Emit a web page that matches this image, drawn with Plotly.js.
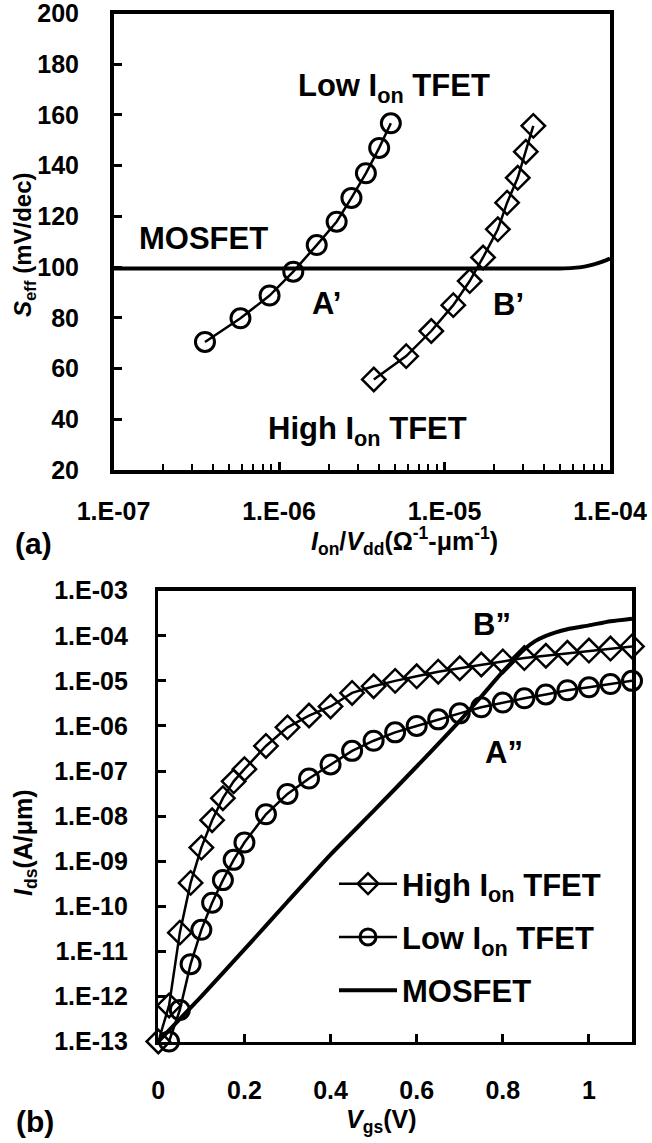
<!DOCTYPE html>
<html>
<head>
<meta charset="utf-8">
<script src="https://cdn.plot.ly/plotly-3.0.1.min.js"></script>
<style>html,body{margin:0;padding:0;background:#fff;}#chart{width:652px;height:1143px;}</style>
</head>
<body>
<div id="chart"></div>
<script>
// ---------- (a) Seff vs Ion/Vdd ----------
const lowIonX  = [3.57e-7, 5.85e-7, 8.77e-7, 1.22e-6, 1.69e-6, 2.23e-6, 2.74e-6, 3.35e-6, 4.03e-6, 4.74e-6];
const lowIonS  = [70.5, 79.8, 88.8, 98.2, 108.7, 117.9, 127.3, 137.0, 147.0, 156.7];
const highIonX = [3.74e-6, 5.87e-6, 8.32e-6, 1.13e-5, 1.42e-5, 1.71e-5, 2.10e-5, 2.39e-5, 2.77e-5, 3.10e-5, 3.44e-5];
const highIonS = [55.7, 64.9, 74.8, 85.0, 94.5, 103.8, 114.9, 125.4, 135.2, 145.5, 155.7];
const mosX     = [1e-7, 1e-6, 1e-5, 3e-5, 5e-5, 6e-5, 7e-5, 8e-5, 9e-5, 1e-4];
const mosS     = [99.5, 99.5, 99.5, 99.5, 99.5, 99.7, 100.2, 101.1, 102.2, 103.4];
const topXTickVals = [1e-7, 1e-6, 1e-5, 1e-4];
const topXTickText = ['1.E-07', '1.E-06', '1.E-05', '1.E-04'];
const topYTickVals = [20, 40, 60, 80, 100, 120, 140, 160, 180, 200];
const topYTickText = ['20', '40', '60', '80', '100', '120', '140', '160', '180', '200'];

// ---------- (b) Ids vs Vgs ----------
const vgsHigh = [0, 0.025, 0.05, 0.075, 0.1, 0.125, 0.15, 0.175, 0.2, 0.25, 0.3, 0.35, 0.4, 0.45, 0.5, 0.55, 0.6, 0.65, 0.7, 0.75, 0.8, 0.85, 0.9, 0.95, 1.0, 1.05, 1.1];
const idsHigh = [1.0e-13, 6.3e-13, 2.6e-11, 3.3e-10, 2.0e-9, 8.1e-9, 2.5e-8, 5.9e-8, 1.1e-7, 3.6e-7, 9.3e-7, 1.7e-6, 2.7e-6, 5.4e-6, 7.6e-6, 1.0e-5, 1.26e-5, 1.6e-5, 1.9e-5, 2.3e-5, 2.7e-5, 3.2e-5, 3.6e-5, 4.2e-5, 4.7e-5, 5.2e-5, 5.8e-5];
const vgsLow  = [0.025, 0.05, 0.075, 0.1, 0.125, 0.15, 0.175, 0.2, 0.25, 0.3, 0.35, 0.4, 0.45, 0.5, 0.55, 0.6, 0.65, 0.7, 0.75, 0.8, 0.85, 0.9, 0.95, 1.0, 1.05, 1.1];
const idsLow  = [1.0e-13, 5.0e-13, 5.2e-12, 3.0e-11, 1.2e-10, 3.8e-10, 1.07e-9, 2.6e-9, 1.1e-8, 3.1e-8, 6.8e-8, 1.4e-7, 2.8e-7, 4.7e-7, 7.2e-7, 1.0e-6, 1.4e-6, 1.9e-6, 2.6e-6, 3.3e-6, 4.1e-6, 5.0e-6, 6.2e-6, 7.2e-6, 8.5e-6, 1.0e-5];
const vgsMos  = [0, 0.1, 0.2, 0.3, 0.4, 0.5, 0.6, 0.7, 0.75, 0.8, 0.85, 0.875, 0.9, 0.95, 1.0, 1.05, 1.1];
const idsMos  = [1e-13, 1e-12, 1.1e-11, 1.26e-10, 1.4e-9, 1.3e-8, 1.26e-7, 1.3e-6, 4.5e-6, 1.6e-5, 5.0e-5, 7.6e-5, 1.0e-4, 1.4e-4, 1.7e-4, 2.1e-4, 2.4e-4];
const botYTickVals = [1e-13, 1e-12, 1e-11, 1e-10, 1e-9, 1e-8, 1e-7, 1e-6, 1e-5, 1e-4, 1e-3];
const botYTickText = ['1.E-13', '1.E-12', '1.E-11', '1.E-10', '1.E-09', '1.E-08', '1.E-07', '1.E-06', '1.E-05', '1.E-04', '1.E-03'];
const botXTickVals = [0, 0.2, 0.4, 0.6, 0.8, 1.0];
const botXTickText = ['0', '0.2', '0.4', '0.6', '0.8', '1'];

const legendNames = ['High I<sub>on</sub> TFET', 'Low I<sub>on</sub> TFET', 'MOSFET'];

// ---------- layout helpers ----------
const W = 652, H = 1143;
const px = x => x / W;
const py = y => 1 - y / H;
const F = 'Liberation Sans, Arial, Helvetica, sans-serif';

const circleMarker  = {symbol: 'circle-open',  size: 19, color: 'black', line: {width: 3, color: 'black'}};
const diamondMarker = {symbol: 'diamond-open', size: 18, color: 'black', line: {width: 2.5, color: 'black'}};

const traces = [
  // (a)
  {x: lowIonX, y: lowIonS, xaxis: 'x', yaxis: 'y', mode: 'lines+markers', line: {color: 'black', width: 2.5},
   marker: circleMarker, showlegend: false, cliponaxis: false},
  {x: highIonX, y: highIonS, xaxis: 'x', yaxis: 'y', mode: 'lines+markers', line: {color: 'black', width: 2.5},
   marker: diamondMarker, showlegend: false, cliponaxis: false},
  {x: mosX, y: mosS, xaxis: 'x', yaxis: 'y', mode: 'lines', line: {color: 'black', width: 4, shape: 'spline', smoothing: 0.8},
   showlegend: false, cliponaxis: false},
  // (b)
  {x: vgsHigh, y: idsHigh, xaxis: 'x2', yaxis: 'y2', mode: 'lines+markers', name: legendNames[0], legendgroup: 'g1',
   line: {color: 'black', width: 2.5}, marker: diamondMarker, cliponaxis: false},
  {x: vgsLow, y: idsLow, xaxis: 'x2', yaxis: 'y2', mode: 'lines+markers', name: legendNames[1], legendgroup: 'g2',
   line: {color: 'black', width: 2.5}, marker: circleMarker, cliponaxis: false},
  {x: vgsMos, y: idsMos, xaxis: 'x2', yaxis: 'y2', mode: 'lines', name: legendNames[2], legendgroup: 'g3',
   line: {color: 'black', width: 4, shape: 'spline', smoothing: 0.6}, cliponaxis: false}
];

const axisCommon = {
  showline: true, linewidth: 3.5, linecolor: 'black', mirror: true,
  showgrid: false, zeroline: false,
  ticks: 'inside', ticklen: 8, tickwidth: 3, tickcolor: 'black',
  ticklabeloverflow: 'allow',
  tickfont: {family: F, size: 25, color: 'black', weight: 'bold'}
};

const ann = (text, x, y, size, extra) => Object.assign({
  text: text, x: px(x), y: py(y), xref: 'paper', yref: 'paper', showarrow: false,
  xanchor: 'center', yanchor: 'middle',
  font: {family: F, size: size, color: 'black', weight: 'bold'}
}, extra || {});

const layout = {
  width: W, height: H,
  margin: {l: 0, r: 0, t: 0, b: 0},
  paper_bgcolor: 'white', plot_bgcolor: 'white',
  font: {family: F, size: 25, color: 'black', weight: 'bold'},
  xaxis: Object.assign({}, axisCommon, {
    domain: [px(113.5), px(610)], anchor: 'y', type: 'log', range: [-7, -4],
    tickmode: 'array', tickvals: topXTickVals, ticktext: topXTickText,
    ticklabelstandoff: 16,
    minor: {ticks: 'inside', ticklen: 6, tickwidth: 2, tickcolor: 'black', dtick: 'D1', showgrid: false}
  }),
  yaxis: Object.assign({}, axisCommon, {
    domain: [py(470), py(13.5)], anchor: 'x', range: [20, 200],
    tickmode: 'array', tickvals: topYTickVals, ticktext: topYTickText,
    ticklabelstandoff: 26
  }),
  xaxis2: Object.assign({}, axisCommon, {
    domain: [px(158.3), px(632)], anchor: 'y2', range: [0, 1.1],
    tickmode: 'array', tickvals: botXTickVals, ticktext: botXTickText,
    ticklabelstandoff: 24
  }),
  yaxis2: Object.assign({}, axisCommon, {
    domain: [py(1041.5), py(590.7)], anchor: 'x2', type: 'log', range: [-13, -3],
    tickmode: 'array', tickvals: botYTickVals, ticktext: botYTickText,
    ticklabelstandoff: 22
  }),
  showlegend: true,
  legend: {
    x: px(334), xanchor: 'left', y: py(857), yanchor: 'top',
    font: {family: F, size: 31, color: 'black', weight: 'bold'},
    bgcolor: 'rgba(0,0,0,0)', borderwidth: 0,
    itemwidth: 58, traceorder: 'grouped', tracegroupgap: 10, itemsizing: 'trace'
  },
  annotations: [
    ann('<i>S</i><sub>eff</sub> (mV/dec)', 24, 245, 24, {textangle: -90}),
    ann('<i>I</i><sub>on</sub>/<i>V</i><sub>dd</sub>(Ω<sup>-1</sup>-μm<sup>-1</sup>)', 404, 541, 25),
    ann('(a)', 33, 543, 30),
    ann('Low I<sub>on</sub> TFET', 393.5, 88, 31),
    ann('MOSFET', 203, 239, 31),
    ann('A’', 326, 304, 31),
    ann('B’', 508, 305, 31),
    ann('High I<sub>on</sub> TFET', 367.5, 431, 31),
    ann('<i>I</i><sub>ds</sub>(A/μm)', 25, 843, 25, {textangle: -90}),
    ann('<i>V</i><sub>gs</sub>(V)', 381, 1121, 25),
    ann('(b)', 35, 1121, 30),
    ann('B”', 492, 624, 31),
    ann('A”', 504, 752, 31)
  ]
};

Plotly.newPlot('chart', traces, layout, {displayModeBar: false, staticPlot: true});
</script>
</body>
</html>
